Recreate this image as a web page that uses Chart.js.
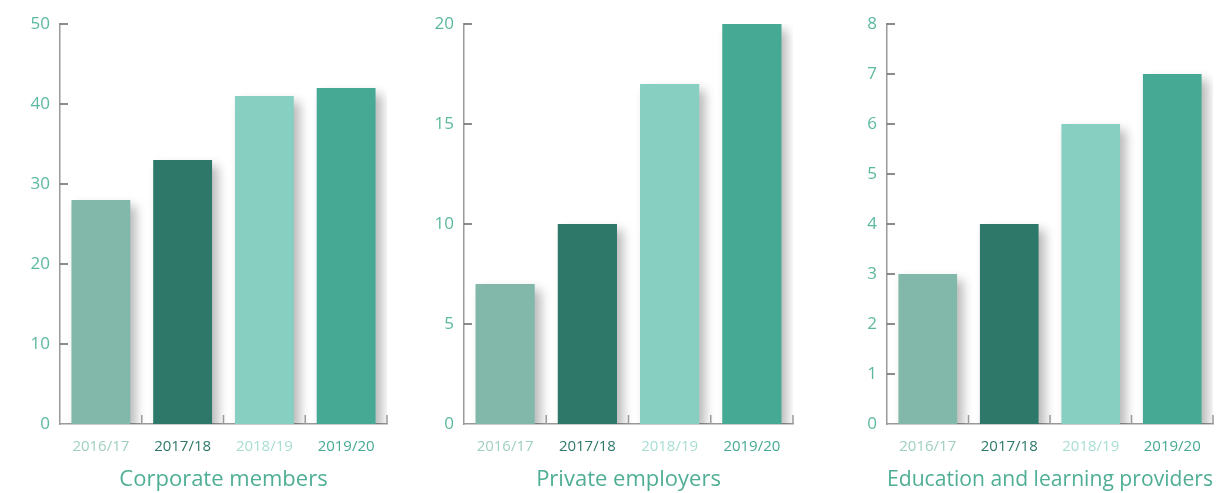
<!DOCTYPE html>
<html>
<head>
<meta charset="utf-8">
<script src="https://cdn.jsdelivr.net/npm/chart.js@4"></script>
<style>
    body { margin: 0; background: #fff; width: 1229px; height: 493px; overflow: hidden; position: relative; }
    .box { position: absolute; top: 0; height: 493px; }
    #b1 { left: 0; width: 400px; }
    #b2 { left: 404px; width: 400px; }
    #b3 { left: 827px; width: 402px; }
</style>
</head>
<body>
<div class="box" id="b1"><canvas id="c1"></canvas></div>
<div class="box" id="b2"><canvas id="c2"></canvas></div>
<div class="box" id="b3"><canvas id="c3"></canvas></div>
<script>
// --- data ---
const years = ['2016/17', '2017/18', '2018/19', '2019/20'];
const corporateMembers = [28, 33, 41, 42];
const privateEmployers = [7, 10, 17, 20];
const educationProviders = [3, 4, 6, 7];
const titles = ['Corporate members', 'Private employers', 'Education and learning providers'];

const barColors = ['#82b8aa', '#2e7869', '#86cfc1', '#45a993'];
const yearColors = ['#9fcfc2', '#2e7869', '#a8ddd2', '#45a993'];
const tealText = '#5cb89f';
const axisGray = '#9a9a9a';
const font = "'Open Sans', 'Noto Sans', sans-serif";

// soft drop shadow behind the bars
const shadowPlugin = {
    id: 'barShadow',
    beforeDatasetsDraw(chart) {
        const ctx = chart.ctx;
        ctx.save();
        ctx.shadowColor = 'rgba(0,0,0,0.28)';
        ctx.shadowBlur = 10;
        ctx.shadowOffsetX = 6;
        ctx.shadowOffsetY = 6;
    },
    afterDatasetsDraw(chart) {
        chart.ctx.restore();
    }
};

// little ticks pointing into the plot area
const innerTicks = {
    id: 'innerTicks',
    afterDraw(chart) {
        const ctx = chart.ctx;
        const x = chart.scales.x, y = chart.scales.y;
        ctx.save();
        ctx.lineWidth = 1.5;
        y.ticks.forEach(t => {
            const py = y.getPixelForValue(t.value);
            if (t.value === 0) return;
            ctx.strokeStyle = '#666';
            ctx.beginPath();
            ctx.moveTo(x.left, py);
            ctx.lineTo(x.left + 8, py);
            ctx.stroke();
        });
        ctx.strokeStyle = axisGray;
        const half = (x.getPixelForTick(1) - x.getPixelForTick(0)) / 2;
        for (let i = 0; i < x.ticks.length; i++) {
            const px = x.getPixelForTick(i) + half;
            ctx.beginPath();
            ctx.moveTo(px, y.bottom);
            ctx.lineTo(px, y.bottom - 9);
            ctx.stroke();
        }
        ctx.restore();
    }
};

function makeChart(canvasId, values, title, max, step, padRight) {
    const ctx = document.getElementById(canvasId).getContext('2d');
    return new Chart(ctx, {
        type: 'bar',
        data: {
            labels: years,
            datasets: [{
                data: values,
                backgroundColor: barColors,
                borderWidth: 0,
                barPercentage: 0.72,
                categoryPercentage: 1
            }]
        },
        options: {
            responsive: true,
            maintainAspectRatio: false,
            animation: false,
            layout: { padding: { top: 24, right: padRight, left: 0, bottom: 0 } },
            plugins: {
                legend: { display: false },
                tooltip: { enabled: false }
            },
            scales: {
                x: {
                    grid: { display: false, drawTicks: false },
                    border: { color: axisGray, width: 1.5 },
                    ticks: {
                        color: ctx => yearColors[ctx.index],
                        font: { family: font, size: 15 },
                        padding: 14
                    },
                    title: {
                        display: true,
                        text: title,
                        color: '#4fae95',
                        font: { family: font, size: 22 },
                        padding: { top: 7, bottom: 0 }
                    },
                    afterFit(scale) { scale.height = 69; }
                },
                y: {
                    min: 0,
                    max: max,
                    grid: { display: false, drawTicks: false },
                    border: { color: axisGray, width: 1.5 },
                    ticks: {
                        stepSize: step,
                        color: tealText,
                        font: { family: font, size: 17 },
                        padding: 10
                    },
                    afterFit(scale) { scale.width = 60; }
                }
            }
        },
        plugins: [shadowPlugin, innerTicks]
    });
}

makeChart('c1', corporateMembers, titles[0], 50, 10, 13);
makeChart('c2', privateEmployers, titles[1], 20, 5, 11);
makeChart('c3', educationProviders, titles[2], 8, 1, 16);
</script>
</body>
</html>
